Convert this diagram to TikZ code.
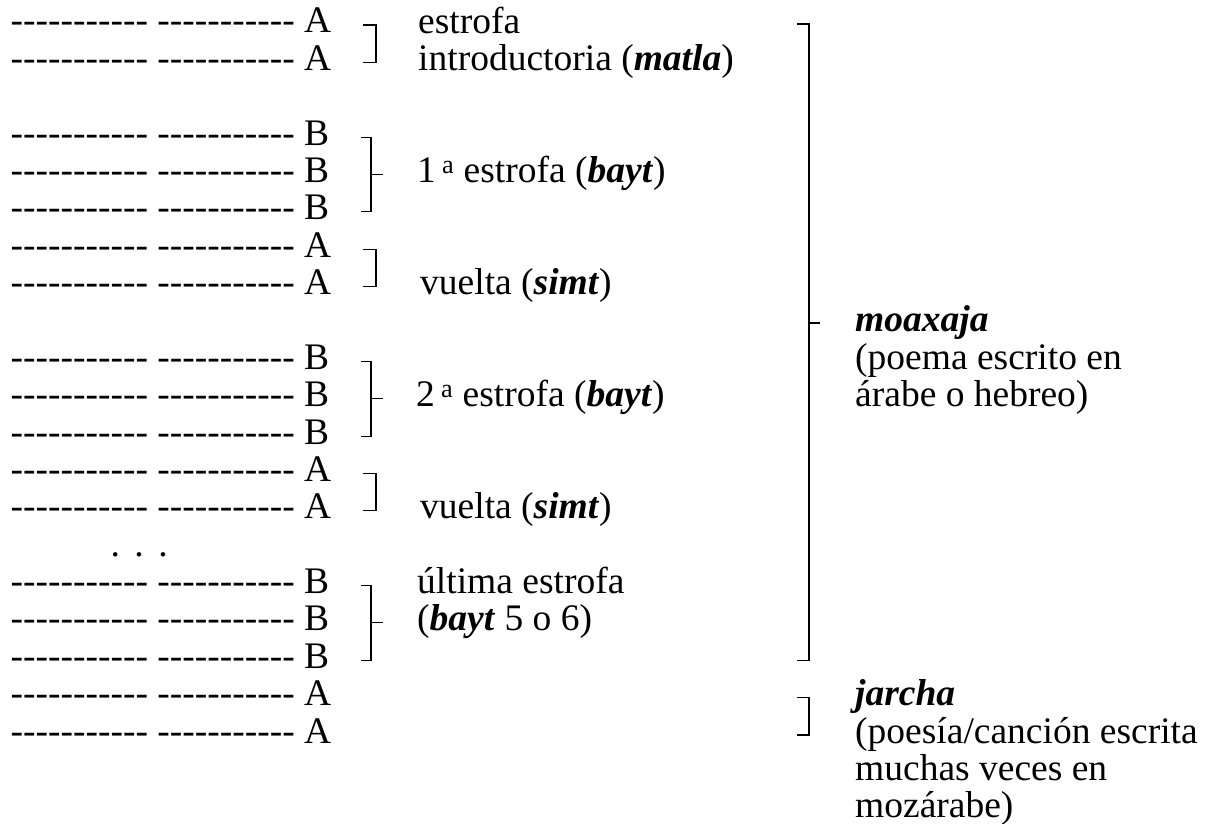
\documentclass[tikz,border=0pt]{standalone}
\usepackage{fontspec}
\setmainfont{Liberation Serif}[Ligatures=TeXOff]
\usepackage{tikz}

\newcommand{\guiones}{-----------\ -----------\ }
\newcommand{\termino}[1]{\textbf{\textit{#1}}}

\begin{document}
\begin{tikzpicture}[x=1pt,y=1pt,
    every node/.style={inner sep=0pt, font=\fontsize{37.5}{37.37}\selectfont},
    verso/.style={anchor=base west},
    glosa/.style={anchor=base west, align=left},
    llave/.style={black, line width=1.1pt}]
        \useasboundingbox (0,0) rectangle (1212,-824);
        % versos
        \draw (10.5,-33) node[verso] (v1) {\guiones A};
        \draw (10.5,-70.4) node[verso] (v2) {\guiones A};
        \draw (10.5,-145.1) node[verso] (v4) {\guiones B};
        \draw (10.5,-182.5) node[verso] (v5) {\guiones B};
        \draw (10.5,-219.9) node[verso] (v6) {\guiones B};
        \draw (10.5,-257.2) node[verso] (v7) {\guiones A};
        \draw (10.5,-294.6) node[verso] (v8) {\guiones A};
        \draw (10.5,-369.3) node[verso] (v10) {\guiones B};
        \draw (10.5,-406.7) node[verso] (v11) {\guiones B};
        \draw (10.5,-444.1) node[verso] (v12) {\guiones B};
        \draw (10.5,-481.4) node[verso] (v13) {\guiones A};
        \draw (10.5,-518.8) node[verso] (v14) {\guiones A};
        \draw (110.3,-556.2) node[verso] (puntos) {.\hspace{14.6pt}.\hspace{14.6pt}.};
        \draw (10.5,-593.6) node[verso] (v16) {\guiones B};
        \draw (10.5,-630.9) node[verso] (v17) {\guiones B};
        \draw (10.5,-668.3) node[verso] (v18) {\guiones B};
        \draw (10.5,-705.7) node[verso] (v19) {\guiones A};
        \draw (10.5,-743) node[verso] (v20) {\guiones A};
        % llaves pequeñas
        \draw [llave] (363,-25) -- (376,-25) -- (376,-62.4) -- (363,-62.4);
        \draw [llave] (361,-137.1) -- (371,-137.1) -- (371,-211.9) -- (361,-211.9);
        \draw [llave] (371,-174.5) -- (383,-174.5);
        \draw [llave] (363,-249.2) -- (376,-249.2) -- (376,-286.6) -- (363,-286.6);
        \draw [llave] (361,-361.3) -- (371,-361.3) -- (371,-436.1) -- (361,-436.1);
        \draw [llave] (371,-398.7) -- (383,-398.7);
        \draw [llave] (363,-473.4) -- (376,-473.4) -- (376,-510.8) -- (363,-510.8);
        \draw [llave] (361,-585.6) -- (371,-585.6) -- (371,-660.3) -- (361,-660.3);
        \draw [llave] (371,-622.9) -- (383,-622.9);
        % llaves grandes
        \draw [llave] (797,-24) -- (809,-24) -- (809,-660.3) -- (797,-660.3);
        \draw [llave] (809,-323) -- (820,-323);
        \draw [llave] (797,-697.7) -- (809,-697.7) -- (809,-735) -- (797,-735);
        % glosas (base = ultima linea)
        \draw (418,-70.4) node[glosa] (matla) {estrofa\\introductoria (\termino{matla})};
        \draw (417,-182.5) node[glosa] (bayt1) {1\,\textsuperscript{a} estrofa (\termino{bayt})};
        \draw (420,-294.6) node[glosa] (simt1) {vuelta (\termino{simt})};
        \draw (416,-406.7) node[glosa] (bayt2) {2\,\textsuperscript{a} estrofa (\termino{bayt})};
        \draw (420,-518.8) node[glosa] (simt2) {vuelta (\termino{simt})};
        \draw (417,-630.9) node[glosa] (ultima) {última estrofa\\(\termino{bayt} 5 o 6)};
        \draw (855,-406.7) node[glosa] (moaxaja) {\termino{moaxaja}\\(poema escrito en\\árabe o hebreo)};
        \draw (855,-817.8) node[glosa] (jarcha) {\termino{jarcha}\\(poesía/canción escrita\\muchas veces en\\mozárabe)};
    \end{tikzpicture}
\end{document}
